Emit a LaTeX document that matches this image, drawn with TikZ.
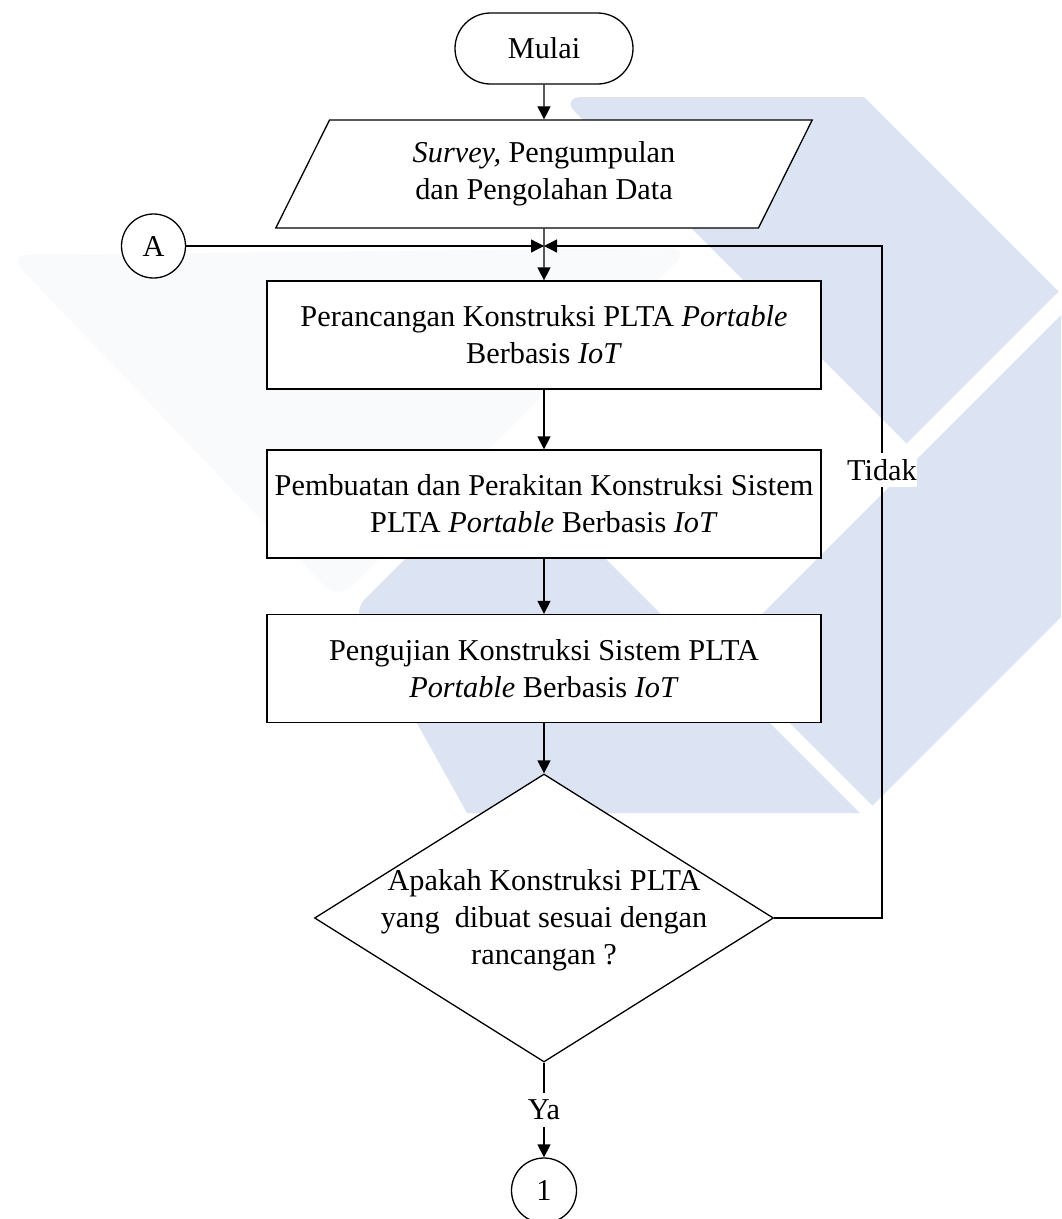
\documentclass[tikz,border=0pt]{standalone}
\usepackage{fontspec}
\setmainfont{Liberation Serif}
\usetikzlibrary{arrows.meta,shapes.geometric,shapes.misc}
\definecolor{wmblue}{RGB}{220,227,242}
\definecolor{wmgray}{RGB}{249,250,252}

\begin{document}
\begin{tikzpicture}[x=1pt,y=-1pt,
  every node/.style={font=\fontsize{30.3}{37}\selectfont},
  flow/.style={draw=black, line width=1.3pt, fill=white, inner sep=0pt, align=center},
  process/.style={flow, rectangle, minimum width=554pt, minimum height=108pt},
  terminal/.style={flow, rounded rectangle, minimum width=178pt, minimum height=71pt},
  iobox/.style={flow, trapezium, trapezium left angle=63, trapezium right angle=117,
    trapezium stretches=true, minimum width=538pt, minimum height=108pt},
  decision/.style={flow, diamond, minimum width=459pt, minimum height=288pt},
  connector/.style={flow, circle, minimum size=64pt},
  link/.style={line width=1.3pt},
  arr/.style={link, -{Triangle[length=13pt,width=13pt]}},
  tag/.style={fill=white, inner xsep=0pt, inner ysep=0pt, minimum height=34pt}
]
\useasboundingbox (0,0) rectangle (1061,1219);
\fill[white] (0,0) rectangle (1061,1219);

% background logo shapes
\begin{scope}
  \clip (0,0) rectangle (1061,1219);
  \fill[wmgray, rounded corners=20pt] (8,255) -- (690,248) -- (338,600) -- cycle;
  \fill[wmblue] (864,97) -- (1058.5,291.5) -- (906.5,443.5)
    [rounded corners=22pt] -- (560,97) [sharp corners] -- cycle;
  \fill[wmblue] (721.5,654.5) -- (1300,76) -- (1300,378) -- (872.5,805.5) -- cycle;
  \fill[wmblue] (860,813) -- (467,813) [rounded corners=15pt] -- (354,610)
    [sharp corners] -- (505.5,458.5) -- cycle;
\end{scope}

% flowchart nodes
\node[terminal] (start) at (544,48.5) {Mulai};
\node[iobox] (survey) at (544,174) {\textit{Survey,} Pengumpulan\\dan Pengolahan Data};
\node[connector] (A) at (153.5,246) {A};
\coordinate (join) at (544,246);
\coordinate (back) at (882,246);
\node[process] (design) at (544,335) {Perancangan Konstruksi PLTA \textit{Portable}\\Berbasis \textit{IoT}};
\node[process] (build) at (544,504) {Pembuatan dan Perakitan Konstruksi Sistem\\PLTA \textit{Portable} Berbasis \textit{IoT}};
\node[process] (test) at (544,668.5) {Pengujian Konstruksi Sistem PLTA\\\textit{Portable} Berbasis \textit{IoT}};
\node[decision] (check) at (544,918) {};
\node[align=center, inner sep=0pt] (checktext) at (544,920) {Apakah Konstruksi PLTA\\yang~ dibuat sesuai dengan\\rancangan ?};
\node[connector, minimum size=65pt] (one) at (544,1190.5) {1};

% connectors
\draw[arr] (start) -- (survey);
\draw[arr] (survey) -- (design);
\draw[arr] (A) -- (join);
\draw[arr] (check.east) -| (back) -- (join);
\node[tag] (no) at (882,470) {Tidak};
\draw[arr] (design) -- (build);
\draw[arr] (build) -- (test);
\draw[arr] (test) -- (check);
\node[tag] (yes) at (544,1110) {Ya};
\draw[link] (check.south) -- (yes);
\draw[arr] (yes) -- (one);
\end{tikzpicture}
\end{document}
